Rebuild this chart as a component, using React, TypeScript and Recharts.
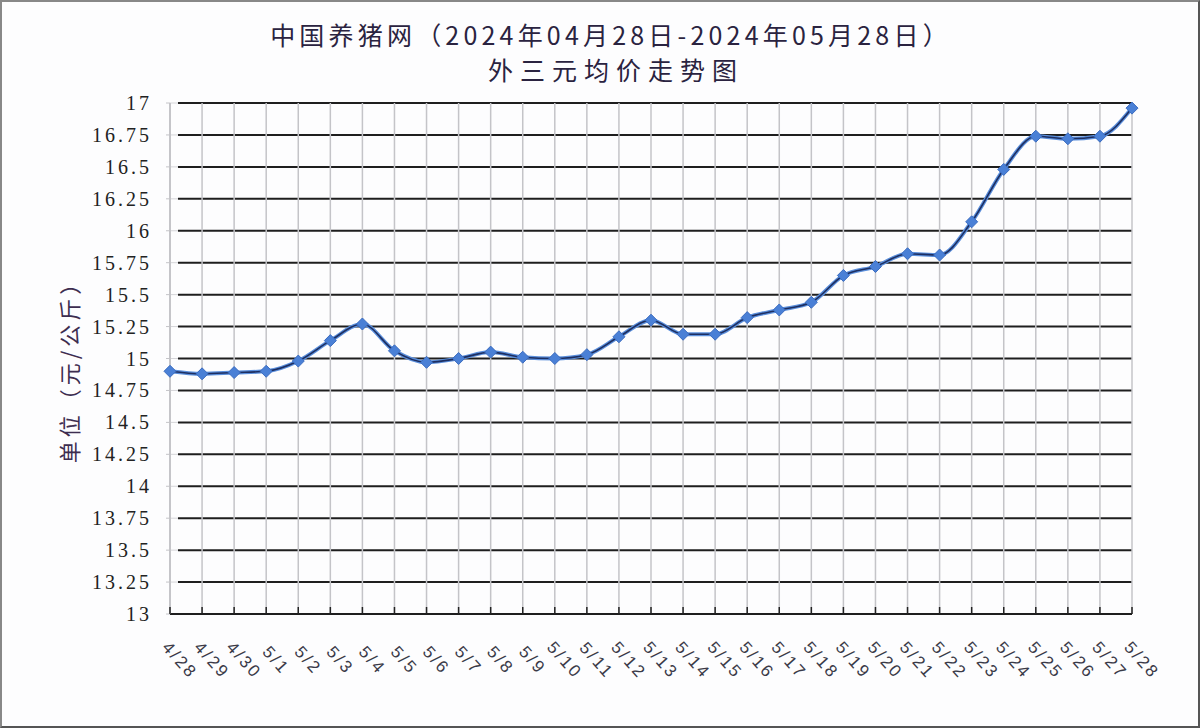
import React from "react";
import { LineChart, Line, XAxis, YAxis, CartesianGrid } from "recharts";

// 外三元均价 (元/公斤)
const dates = [
  "4/28", "4/29", "4/30", "5/1", "5/2", "5/3", "5/4", "5/5", "5/6", "5/7", "5/8",
  "5/9", "5/10", "5/11", "5/12", "5/13", "5/14", "5/15", "5/16", "5/17", "5/18",
  "5/19", "5/20", "5/21", "5/22", "5/23", "5/24", "5/25", "5/26", "5/27", "5/28"
];
const prices = [
  14.9, 14.88, 14.89, 14.9, 14.98, 15.14, 15.27, 15.06, 14.97, 15.0, 15.05,
  15.01, 15.0, 15.03, 15.17, 15.3, 15.19, 15.19, 15.32, 15.38, 15.44,
  15.65, 15.72, 15.82, 15.81, 16.07, 16.48, 16.74, 16.72, 16.74, 16.96
];
const yTicks = [13, 13.25, 13.5, 13.75, 14, 14.25, 14.5, 14.75, 15, 15.25, 15.5, 15.75, 16, 16.25, 16.5, 16.75, 17];

const chartData = dates.map((d, i) => ({ date: d, price: prices[i] }));

const TITLE_1 = "中国养猪网（2024年04月28日-2024年05月28日）";
const TITLE_2 = "外三元均价走势图";
const Y_LABEL = "单位（元/公斤）";

const CJK = '"Noto Sans CJK SC", "Noto Sans", sans-serif';
const SERIF = '"Liberation Serif", "DejaVu Serif", serif';

// x labels rotated down-right, with small tick marks pointing up into the plot
function DateTick(props: any) {
  const { x, y, payload } = props;
  return (
    <g>
      <line x1={x} y1={y} x2={x} y2={y - 7} stroke="#222" strokeWidth={1.5} />
      <text
        transform={`translate(${x + 9},${y + 47}) rotate(48)`}
        textAnchor="middle"
        dominantBaseline="middle"
        style={{ fontSize: 17, letterSpacing: 2.5, fontFamily: '"Liberation Sans", Arial, sans-serif' }}
        fill="#3a3a48"
      >
        {payload.value}
      </text>
    </g>
  );
}

function ValueTick(props: any) {
  const { x, y, payload } = props;
  return (
    <text
      x={x}
      y={y}
      textAnchor="end"
      dominantBaseline="central"
      style={{ fontSize: 20, letterSpacing: 3, fontFamily: SERIF }}
      fill="#222"
    >
      {payload.value}
    </text>
  );
}

function Diamond(props: any) {
  const { cx, cy } = props;
  if (cx == null || cy == null) return null;
  const r = 6;
  return (
    <polygon
      points={`${cx},${cy - r} ${cx + r},${cy} ${cx},${cy + r} ${cx - r},${cy}`}
      fill="#4a80d6"
      stroke="#3b6cc0"
      strokeWidth={1}
    />
  );
}

function HLine(props: any) {
  const { x1, x2, y1, y2 } = props;
  return (
    <g>
      <line x1={x1} x2={x1 + 8} y1={y1} y2={y2} stroke="#d4d4d8" strokeWidth={1} />
      <line x1={x1 + 8} x2={x2} y1={y1} y2={y2} stroke="#1e1e1e" strokeWidth={2} />
    </g>
  );
}

export default function App() {
  return (
    <div
      style={{
        position: "relative",
        width: 1200,
        height: 728,
        background: "#fdfdfe",
        boxSizing: "border-box",
        border: "2px solid #555",
        borderTopColor: "#888",
        borderLeftColor: "#888",
        overflow: "hidden"
      }}
    >
      <style>{`body{margin:0}`}</style>
      <div
        style={{
          position: "absolute",
          left: 0,
          width: 1218,
          top: 16,
          height: 32,
          lineHeight: "32px",
          textAlign: "center",
          fontFamily: CJK,
          fontSize: 25,
          letterSpacing: 4.2,
          color: "#2a2340",
          whiteSpace: "nowrap"
        }}
      >
        {TITLE_1}
      </div>
      <div
        style={{
          position: "absolute",
          left: 0,
          width: 1228,
          top: 51,
          height: 32,
          lineHeight: "32px",
          textAlign: "center",
          fontFamily: CJK,
          fontSize: 25,
          letterSpacing: 7,
          color: "#2a2340",
          whiteSpace: "nowrap"
        }}
      >
        {TITLE_2}
      </div>
      <div
        style={{
          position: "absolute",
          left: 66,
          top: 364,
          transform: "translate(-50%, -50%) rotate(-90deg)",
          whiteSpace: "nowrap",
          fontFamily: CJK,
          fontSize: 22,
          letterSpacing: 4,
          color: "#3d2d50"
        }}
      >
        {Y_LABEL}
      </div>
      <div style={{ position: "absolute", left: -2, top: -2 }}>
        <LineChart
          width={1200}
          height={728}
          data={chartData}
          margin={{ top: 103, right: 68, left: 110, bottom: 44 }}
        >
          <CartesianGrid stroke="#c4c4c8" strokeWidth={1.5} horizontal={HLine} />
          <XAxis
            dataKey="date"
            interval={0}
            height={70}
            tickSize={0}
            tickMargin={0}
            axisLine={{ stroke: "#1e1e1e", strokeWidth: 2 }}
            tickLine={false}
            tick={DateTick}
          />
          <YAxis
            domain={[13, 17]}
            ticks={yTicks}
            interval={0}
            width={60}
            axisLine={{ stroke: "#c4c4c8", strokeWidth: 1.5 }}
            tickLine={{ stroke: "#c4c4c8" }}
            tickSize={4}
            tickMargin={14}
            tick={ValueTick}
          />
          <Line
            type="monotone"
            dataKey="price"
            stroke="#5a8edb"
            strokeWidth={4}
            dot={false}
            activeDot={false}
            isAnimationActive={false}
          />
          <Line
            type="monotone"
            dataKey="price"
            stroke="#1d2f62"
            strokeWidth={1.6}
            dot={<Diamond />}
            activeDot={false}
            isAnimationActive={false}
          />
        </LineChart>
      </div>
    </div>
  );
}
